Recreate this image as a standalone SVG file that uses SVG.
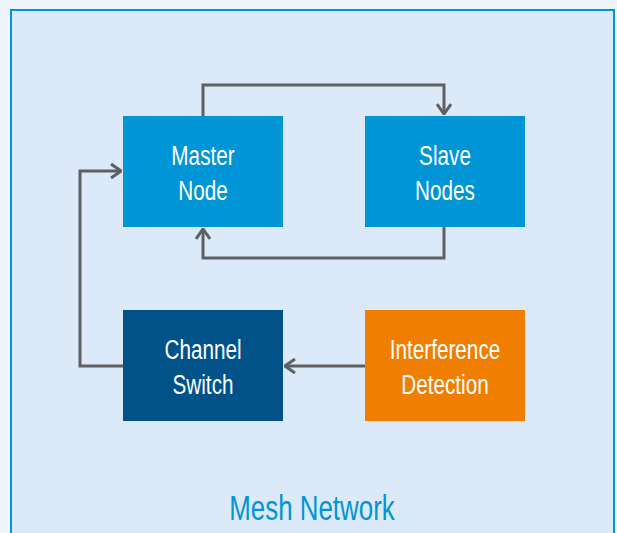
<svg xmlns="http://www.w3.org/2000/svg" width="617" height="533" viewBox="0 0 617 533">
<style>
.node-text{font-family:"Liberation Sans",Arial,sans-serif;font-size:28px;fill:#ffffff;text-anchor:middle}
.conn{fill:none;stroke:#5f6062;stroke-width:3}
.title{font-family:"Liberation Sans",Arial,sans-serif;font-size:35px;fill:#0095d6;text-anchor:middle}
</style>
<defs>
<marker id="arr" viewBox="0 0 12 16" refX="11" refY="8" markerWidth="12" markerHeight="16" markerUnits="userSpaceOnUse" orient="auto">
<path d="M1,1 L11,8 L1,15" fill="none" stroke="#5f6062" stroke-width="3"/>
</marker>
</defs>
<rect width="617" height="533" fill="#eef5fc"/>
<rect id="container" x="11" y="10" width="603" height="540" fill="#dce9f8" stroke="#0095d6" stroke-width="2"/>
<g id="connectors">
<path class="conn" d="M203,116 V85 H444 V114" marker-end="url(#arr)"/>
<path class="conn" d="M444,227 V258 H203 V229" marker-end="url(#arr)"/>
<path class="conn" d="M365,366 H285" marker-end="url(#arr)"/>
<path class="conn" d="M123,366 H80 V171 H121" marker-end="url(#arr)"/>
</g>
<g id="master">
<rect x="123" y="116" width="160" height="111" fill="#0095d6"/>
<text class="node-text" transform="translate(203,165) scale(0.74,1)">Master</text>
<text class="node-text" transform="translate(203,200) scale(0.74,1)">Node</text>
</g>
<g id="slave">
<rect x="365" y="116" width="160" height="111" fill="#0095d6"/>
<text class="node-text" transform="translate(445,165) scale(0.74,1)">Slave</text>
<text class="node-text" transform="translate(445,200) scale(0.74,1)">Nodes</text>
</g>
<g id="channel">
<rect x="123" y="310" width="160" height="111" fill="#005288"/>
<text class="node-text" transform="translate(203,359) scale(0.74,1)">Channel</text>
<text class="node-text" transform="translate(203,394) scale(0.74,1)">Switch</text>
</g>
<g id="interference">
<rect x="365" y="310" width="160" height="111" fill="#f07e00"/>
<text class="node-text" transform="translate(445,359) scale(0.74,1)">Interference</text>
<text class="node-text" transform="translate(445,394) scale(0.74,1)">Detection</text>
</g>
<text class="title" transform="translate(312,520) scale(0.74,1)">Mesh Network</text>
</svg>
